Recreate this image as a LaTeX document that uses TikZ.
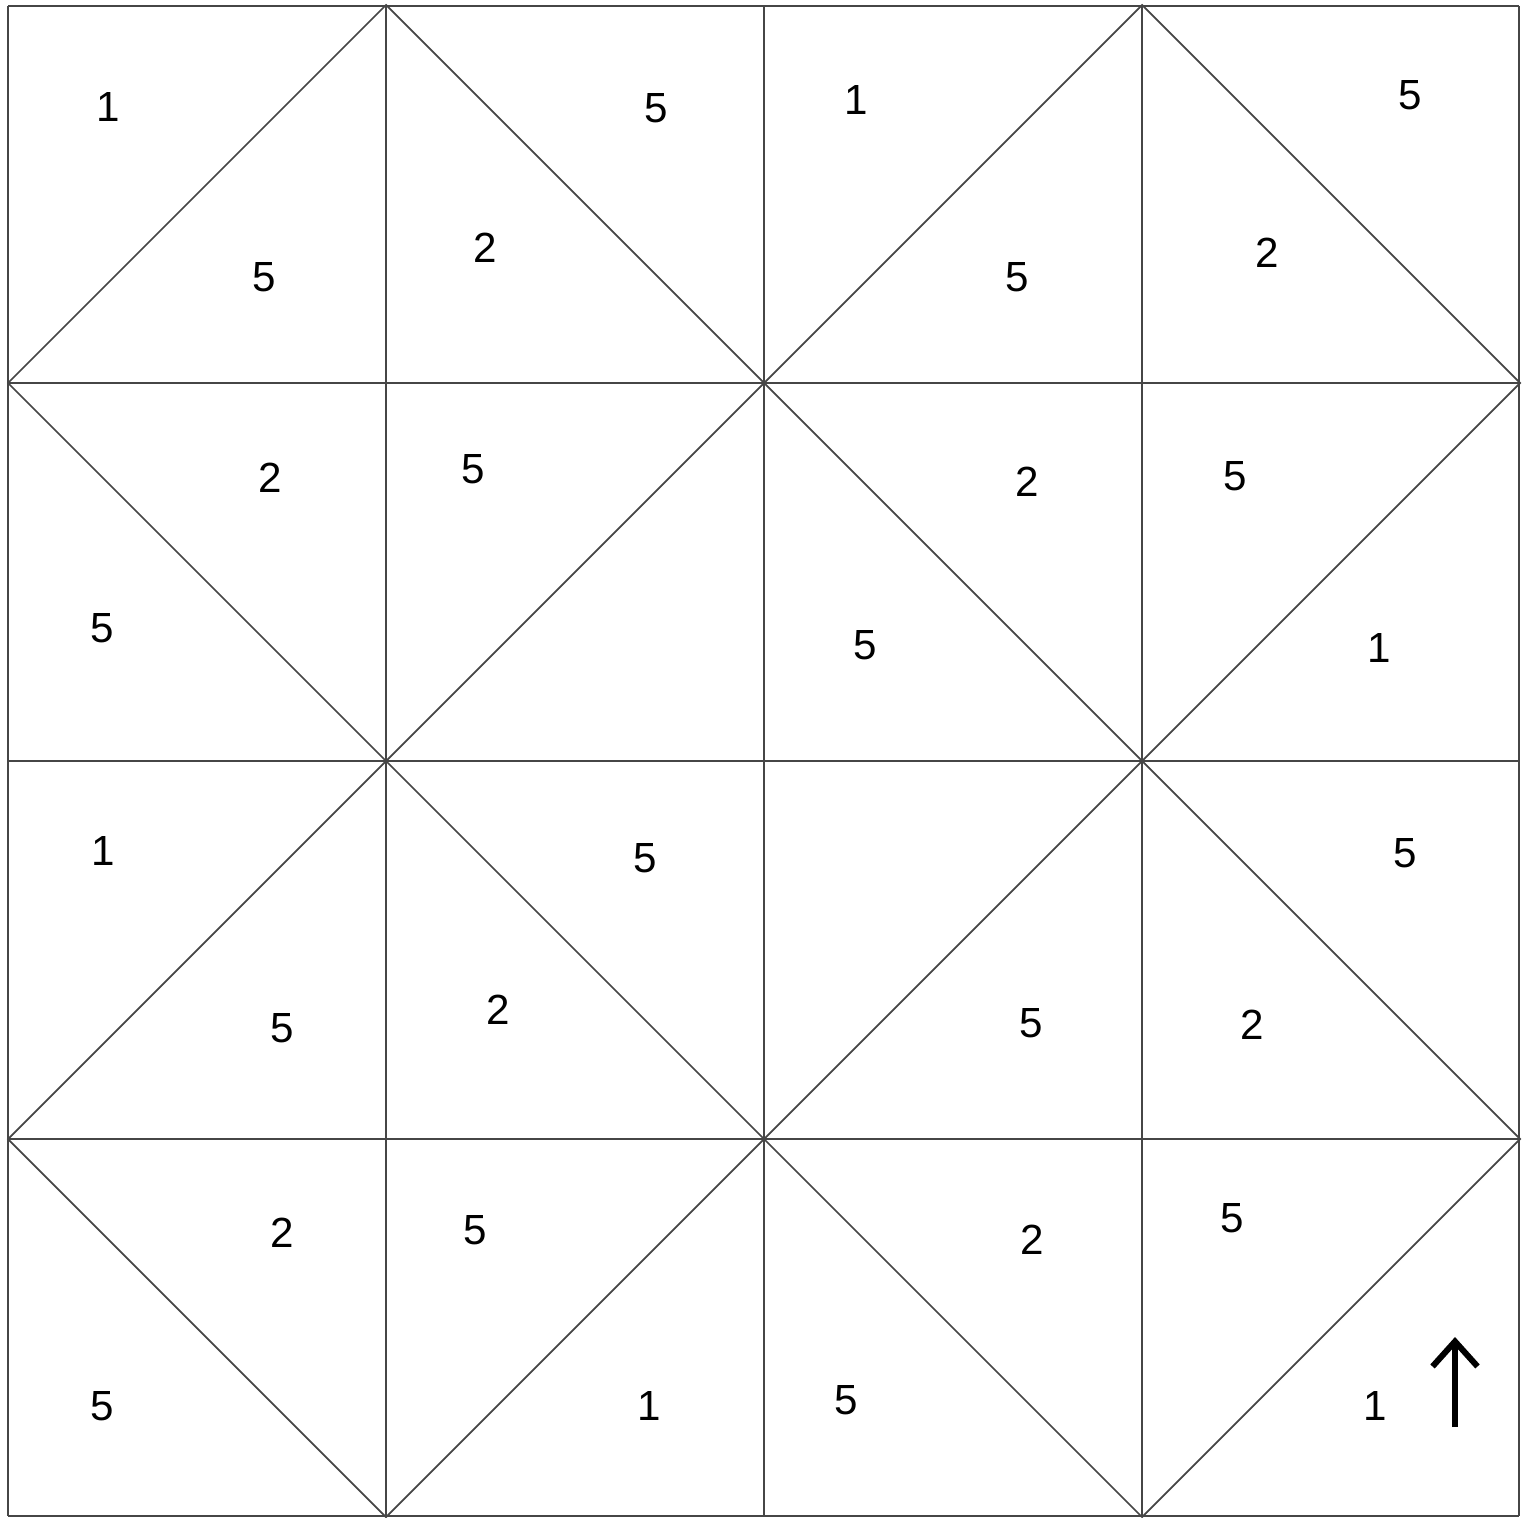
\documentclass[tikz,border=0pt]{standalone}
\usepackage{fontspec}
\setmainfont{Liberation Sans}
\usetikzlibrary{arrows.meta}
\definecolor{gridGray}{RGB}{70,70,70}

\begin{document}
\begin{tikzpicture}[
    x=0.02cm, y=-0.02cm,
    edge/.style={draw=gridGray, line width=1pt},
    num/.style={font=\fontsize{24}{24}\selectfont, inner sep=0pt},
    uparr/.style={-{Straight Barb[length=5mm, width=9mm]}, line width=3.4pt},
]
\useasboundingbox (0,0) rectangle (1527,1517);

% Grid
\foreach \x in {8,386,764,1142,1519} \draw[edge] (\x,6) -- (\x,1516);
\foreach \y in {6,383,761,1139,1516} \draw[edge] (8,\y) -- (1519,\y);

% Diamonds
\foreach \cx/\cy in {386/383, 1142/383, 386/1139, 1142/1139}
  \draw[edge] (\cx-378,\cy) -- (\cx,\cy-378) -- (\cx+378,\cy) -- (\cx,\cy+378) -- cycle;

% Top row
\node[num] (n11a) at (108,107) {1};
\node[num] (n11b) at (264,277) {5};
\node[num] (n12a) at (656,108) {5};
\node[num] (n12b) at (485,248) {2};
\node[num] (n13a) at (856,100) {1};
\node[num] (n13b) at (1017,277) {5};
\node[num] (n14a) at (1410,95) {5};
\node[num] (n14b) at (1267,253) {2};

% Second row
\node[num] (n21a) at (270,478) {2};
\node[num] (n21b) at (102,628) {5};
\node[num] (n22a) at (473,469) {5};
\node[num] (n23a) at (1027,482) {2};
\node[num] (n23b) at (865,645) {5};
\node[num] (n24a) at (1235,476) {5};
\node[num] (n24b) at (1379,648) {1};

% Third row
\node[num] (n31a) at (103,851) {1};
\node[num] (n31b) at (282,1028) {5};
\node[num] (n32a) at (645,858) {5};
\node[num] (n32b) at (498,1010) {2};
\node[num] (n33a) at (1031,1023) {5};
\node[num] (n34a) at (1405,853) {5};
\node[num] (n34b) at (1252,1025) {2};

% Bottom row
\node[num] (n41a) at (282,1233) {2};
\node[num] (n41b) at (102,1406) {5};
\node[num] (n42a) at (475,1230) {5};
\node[num] (n42b) at (649,1406) {1};
\node[num] (n43a) at (1032,1240) {2};
\node[num] (n43b) at (846,1400) {5};
\node[num] (n44a) at (1232,1218) {5};
\node[num] (n44b) at (1375,1406) {1};

% Direction arrow
\coordinate (arrTail) at (1455,1427);
\coordinate (arrHead) at (1455,1337);
\draw[uparr] (arrTail) -- (arrHead);
\end{tikzpicture}
\end{document}
